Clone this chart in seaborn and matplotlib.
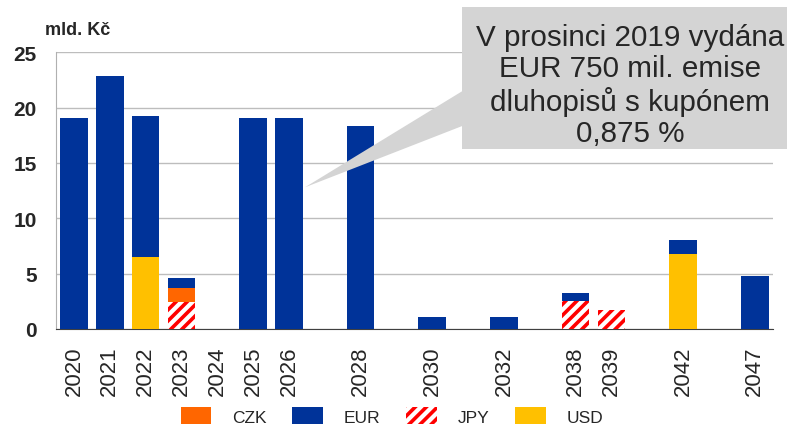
import numpy as np
import pandas as pd
import matplotlib
matplotlib.use("Agg")
import matplotlib.pyplot as plt
from matplotlib.patches import Patch, Rectangle, Polygon
import seaborn as sns

# maturity slots (empty string = blank slot on the axis)
slots = ["2020", "2021", "2022", "2023", "2024", "2025", "2026", "", "2028", "",
         "2030", "", "2032", "", "2038", "2039", "", "2042", "", "2047"]
jpy = [0, 0, 0, 2.4, 0, 0, 0, 0, 0, 0, 0, 0, 0, 0, 2.5, 1.7, 0, 0, 0, 0]
usd = [0, 0, 6.5, 0, 0, 0, 0, 0, 0, 0, 0, 0, 0, 0, 0, 0, 0, 6.75, 0, 0]
czk = [0, 0, 0, 1.3, 0, 0, 0, 0, 0, 0, 0, 0, 0, 0, 0, 0, 0, 0, 0, 0]
eur = [19.05, 22.9, 12.7, 0.95, 0, 19.05, 19.05, 0, 18.37, 0,
       1.1, 0, 1.1, 0, 0.75, 0, 0, 1.32, 0, 4.8]

callout = "V prosinci 2019 vydána\nEUR 750 mil. emise\ndluhopisů s kupónem\n0,875 %"

c_czk = "#ff6600"
c_eur = "#003399"
c_usd = "#ffc000"
c_jpy = "#ff0000"

sns.set_style("white")
plt.rcParams['font.family'] = ['Liberation Sans', 'DejaVu Sans']
plt.rcParams['hatch.linewidth'] = 2.6
plt.rcParams['hatch.color'] = c_jpy

df = pd.DataFrame({"slot": range(len(slots)), "JPY": jpy, "USD": usd, "CZK": czk, "EUR": eur})
df["l1"] = df["JPY"]
df["l2"] = df["l1"] + df["USD"]
df["l3"] = df["l2"] + df["CZK"]
df["l4"] = df["l3"] + df["EUR"]

W, H = 787, 427
fig = plt.figure(figsize=(W / 100, H / 100), dpi=100)
ax = fig.add_axes([56 / W, 1 - 330 / H, (772.7 - 56) / W, (330 - 53.3) / H])

# stacked bars drawn as overlapping cumulative layers
for col, color in [("l4", c_eur), ("l3", c_czk), ("l2", c_usd)]:
    sns.barplot(data=df, x="slot", y=col, color=color, saturation=1, width=0.77,
                errorbar=None, linewidth=0, ax=ax, zorder=3)
sns.barplot(data=df, x="slot", y="l1", color="white", saturation=1, width=0.77,
            errorbar=None, linewidth=0, ax=ax, zorder=3)
for bar in ax.containers[-1]:
    bar.set_hatch("///")
    bar.set_edgecolor(c_jpy)
    bar.set_linewidth(0)

ax.set_xlim(-0.5, len(slots) - 0.5)
ax.set_ylim(0, 25)
ax.set_yticks(range(0, 26, 5))
ax.set_xticks(range(len(slots)))
ax.set_xticklabels(slots, rotation=90, fontsize=16)
ax.set_xticks(np.arange(-0.5, len(slots), 1), minor=True)
ax.tick_params(axis="x", which="major", length=0, pad=12)
ax.tick_params(axis="x", which="minor", length=7, color="#404040", width=1)
ax.tick_params(axis="y", length=6, color="#b0b0b0", pad=8)
for lab in ax.get_yticklabels():
    lab.set_fontsize(15)
    lab.set_fontweight("bold")
ax.set_xlabel("")
ax.set_ylabel("")
ax.grid(axis="y", color="#bdbdbd", linewidth=1, zorder=0)
ax.set_axisbelow(True)
sns.despine(ax=ax, top=True, right=True)
ax.spines["left"].set_color("#b0b0b0")
ax.spines["bottom"].set_color("#404040")

fig.text(45 / W, 1 - 35 / H, "mld. Kč", fontsize=13, fontweight="bold", ha="left", va="baseline")

# callout box with wedge
def fx(x, y):
    return (x / W, 1 - y / H)

fig.add_artist(Polygon([fx(305, 188.3), fx(463, 91.7), fx(463, 126.7)], closed=True,
                       facecolor="#d4d4d4", edgecolor="none", transform=fig.transFigure, zorder=10))
fig.add_artist(Rectangle(fx(462, 150), (W - 462 + 5) / W, 142 / H, facecolor="#d4d4d4",
                         edgecolor="none", transform=fig.transFigure, zorder=10))
fig.text(630 / W, 1 - 86 / H, callout, fontsize=21.3, ha="center", va="center",
         multialignment="center", linespacing=1.16, zorder=11)

handles = [Patch(facecolor=c_czk, linewidth=0),
           Patch(facecolor=c_eur, linewidth=0),
           Patch(facecolor="white", edgecolor=c_jpy, hatch="///", linewidth=0),
           Patch(facecolor=c_usd, linewidth=0)]
fig.legend(handles, ["CZK", "EUR", "JPY", "USD"], loc="center", ncol=4,
           bbox_to_anchor=(392 / W, 1 - 417 / H), frameon=False, fontsize=12.5,
           handlelength=1.75, handleheight=1.15, handletextpad=1.2, columnspacing=1.5,
           borderpad=0)

fig.savefig("out.png", dpi=100)
